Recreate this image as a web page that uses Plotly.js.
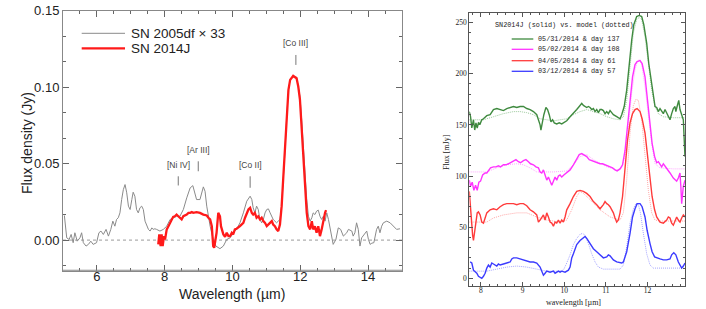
<!DOCTYPE html>
<html>
<head>
<meta charset="utf-8">
<script src="https://cdn.plot.ly/plotly-3.0.1.min.js"></script>
<style>html,body{margin:0;padding:0;background:#fff;}#chart{width:706px;height:309px;}</style>
</head>
<body>
<div id="chart"></div>
<script>
// ---------- Left panel data: [wavelength (µm), flux density (Jy)] ----------
const sn2005dfScaled = [
[5.04,0.0161],[5.11,0.0015],[5.18,0.0004],[5.24,0.0037],[5.30,-0.0017],[5.35,0.0048],[5.42,-0.0007],[5.50,0.0015],
[5.55,0.0048],[5.60,-0.0017],[5.68,-0.0039],[5.75,-0.0028],[5.82,-0.0007],[5.89,-0.0028],[5.99,-0.0017],[6.06,0.0048],
[6.12,0.0059],[6.19,0.0037],[6.27,0.0070],[6.34,0.0026],[6.41,0.0070],[6.47,0.0124],[6.53,0.0091],[6.58,0.0135],
[6.63,0.0146],[6.68,0.0178],[6.73,0.0265],[6.78,0.0330],[6.83,0.0363],[6.88,0.0309],[6.93,0.0222],[6.98,0.0200],
[7.03,0.0265],[7.07,0.0313],[7.12,0.0287],[7.17,0.0200],[7.22,0.0178],[7.27,0.0211],[7.32,0.0222],[7.37,0.0200],
[7.42,0.0124],[7.47,0.0091],[7.52,0.0070],[7.57,0.0059],[7.62,0.0080],[7.66,0.0070],[7.71,0.0074],[7.76,0.0070],
[7.86,0.0059],[7.96,0.0070],[8.06,0.0091],[8.16,0.0135],[8.25,0.0146],[8.35,0.0156],[8.45,0.0156],[8.55,0.0200],
[8.65,0.0276],[8.75,0.0341],[8.83,0.0356],[8.89,0.0309],[8.94,0.0265],[9.04,0.0265],[9.09,0.0309],[9.14,0.0348],
[9.19,0.0319],[9.24,0.0222],[9.34,0.0091],[9.43,0.0004],[9.51,-0.0039],[9.63,-0.0056],[9.73,-0.0039],[9.83,0.0004],
[9.93,0.0015],[10.02,0.0048],[10.12,0.0070],[10.22,0.0113],[10.32,0.0178],[10.42,0.0254],[10.52,0.0287],[10.57,0.0265],
[10.61,0.0211],[10.66,0.0178],[10.71,0.0222],[10.76,0.0200],[10.81,0.0135],[10.86,0.0113],[10.91,0.0135],[10.96,0.0178],
[11.01,0.0200],[11.06,0.0204],[11.11,0.0178],[11.16,0.0156],[11.20,0.0135],[11.30,0.0113],[11.40,0.0135],[11.45,0.0222],
[11.50,0.0374],[11.55,0.0591],[11.60,0.0808],[11.65,0.0982],[11.70,0.1047],[11.79,0.1069],[11.89,0.1065],[11.94,0.1004],
[11.99,0.0939],[12.04,0.0787],[12.09,0.0613],[12.14,0.0417],[12.19,0.0265],[12.24,0.0156],[12.29,0.0124],[12.34,0.0146],
[12.38,0.0178],[12.43,0.0167],[12.48,0.0189],[12.53,0.0196],[12.58,0.0156],[12.63,0.0135],[12.68,0.0156],[12.73,0.0124],
[12.78,0.0178],[12.83,0.0135],[12.88,0.0070],[12.93,0.0004],[12.97,-0.0028],[13.05,0.0004],[13.12,0.0080],[13.19,0.0070],
[13.27,0.0026],[13.37,0.0048],[13.42,0.0070],[13.52,0.0059],[13.56,0.0026],[13.61,0.0048],[13.66,0.0113],[13.71,0.0070],
[13.76,-0.0039],[13.81,0.0015],[13.91,0.0048],[13.96,0.0059],[14.01,0.0004],[14.06,-0.0028],[14.11,-0.0020],[14.17,-0.0017],
[14.25,0.0070],[14.30,0.0091],[14.35,0.0048],[14.40,0.0091],[14.45,0.0113],[14.55,0.0124],[14.65,0.0113],[14.74,0.0091],
[14.84,0.0070],[14.94,0.0074]
];
const sn2014j = [
[7.81,-0.0028],[7.84,0.0037],[7.88,-0.0039],[7.91,0.0037],[7.94,-0.0039],[7.98,0.0026],[8.01,0.0004],[8.06,0.0070],
[8.11,0.0091],[8.16,0.0113],[8.21,0.0135],[8.25,0.0152],[8.30,0.0156],[8.35,0.0167],[8.40,0.0156],[8.45,0.0146],
[8.50,0.0135],[8.55,0.0156],[8.60,0.0161],[8.65,0.0167],[8.70,0.0178],[8.75,0.0178],[8.80,0.0183],[8.84,0.0178],
[8.94,0.0183],[9.04,0.0178],[9.14,0.0167],[9.24,0.0161],[9.29,0.0146],[9.34,0.0135],[9.39,0.0091],[9.43,-0.0039],
[9.46,-0.0050],[9.50,0.0004],[9.53,0.0048],[9.58,0.0178],[9.63,0.0156],[9.66,0.0091],[9.70,0.0048],[9.73,0.0037],
[9.78,0.0022],[9.83,0.0048],[9.88,0.0026],[9.93,0.0026],[9.98,0.0048],[10.02,0.0037],[10.07,0.0070],[10.12,0.0074],
[10.22,0.0091],[10.32,0.0113],[10.37,0.0146],[10.42,0.0178],[10.47,0.0200],[10.52,0.0211],[10.57,0.0178],[10.61,0.0167],
[10.66,0.0178],[10.71,0.0146],[10.76,0.0156],[10.81,0.0135],[10.86,0.0146],[10.91,0.0124],[10.96,0.0113],[11.01,0.0091],
[11.11,0.0113],[11.16,0.0124],[11.20,0.0102],[11.25,0.0091],[11.30,0.0070],[11.35,0.0059],[11.40,0.0102],[11.45,0.0222],
[11.50,0.0417],[11.55,0.0635],[11.60,0.0830],[11.65,0.0982],[11.70,0.1047],[11.79,0.1073],[11.89,0.1058],[11.94,0.1004],
[11.99,0.0917],[12.04,0.0743],[12.09,0.0569],[12.14,0.0352],[12.19,0.0178],[12.24,0.0091],[12.29,0.0070],[12.34,0.0124],
[12.38,0.0070],[12.43,0.0091],[12.48,0.0048],[12.53,0.0091],[12.58,0.0026],[12.63,0.0070],[12.68,0.0135],[12.73,0.0178],
[12.76,0.0196]
];
const lineLabels = ["[Ni IV]", "[Ar III]", "[Co II]", "[Co III]"];
const lineWavelengths = [8.40, 8.99, 10.52, 11.87];
const lineLabelFlux = [0.049, 0.059, 0.049, 0.129];
const lineMarkLow = [0.0357, 0.0450, 0.0342, 0.1145];
const lineMarkHigh = [0.0417, 0.0515, 0.0417, 0.1210];
const leftLegend = ["SN 2005df \u00d7 33", "SN 2014J"];

// ---------- Right panel data: [wavelength (µm), flux (mJy)] ----------
const obs0531 = [
[7.72,163],[7.75,158],[7.78,147],[7.82,155],[7.85,145],[7.88,152],[7.91,147],[7.94,152],[7.98,151],[8.02,155],[8.06,156],
[8.14,159],[8.22,160],[8.30,165],[8.38,166],[8.46,165],[8.54,164],[8.62,166],[8.70,167],[8.78,168],[8.86,167],[8.94,168],
[9.02,168],[9.10,166],[9.18,165],[9.26,163],[9.34,160],[9.38,155],[9.42,150],[9.44,145],[9.47,152],[9.51,160],[9.56,167],
[9.60,165],[9.64,160],[9.68,153],[9.72,155],[9.76,152],[9.82,151],[9.88,152],[9.94,151],[9.99,152],[10.06,154],[10.14,158],
[10.22,161],[10.30,165],[10.36,168],[10.42,171],[10.46,169],[10.50,168],[10.54,167],[10.58,168],[10.62,167],[10.66,165],
[10.70,166],[10.74,163],[10.78,165],[10.82,162],[10.86,165],[10.90,165],[10.94,164],[10.98,161],[11.02,163],[11.06,161],
[11.10,164],[11.14,162],[11.18,160],[11.26,158],[11.34,156],[11.38,160],[11.44,168],[11.50,184],[11.55,207],[11.62,233],
[11.67,248],[11.74,256],[11.80,257],[11.86,256],[11.91,248],[11.98,230],[12.03,210],[12.09,191],[12.14,176],[12.18,168],
[12.22,167],[12.26,163],[12.30,166],[12.34,164],[12.38,161],[12.42,165],[12.46,162],[12.50,158],[12.54,155],[12.58,161],
[12.62,166],[12.66,168],[12.68,163],[12.71,168],[12.75,174],[12.78,165],[12.82,160],[12.86,155],[12.90,119]
];
const model137 = [
[7.72,155],[8.06,155],[8.30,158],[8.54,161],[8.78,163],[8.94,163],[9.10,162],[9.26,160],[9.42,156],[9.58,155],[9.74,154],
[9.90,155],[10.06,156],[10.22,160],[10.38,163],[10.54,165],[10.70,163],[10.86,161],[11.02,158],[11.18,156],[11.34,155],
[11.42,158],[11.50,174],[11.58,207],[11.66,240],[11.74,253],[11.80,255],[11.86,253],[11.94,236],[12.02,210],[12.10,184],
[12.18,168],[12.26,161],[12.38,158],[12.62,157],[12.90,157]
];
const obs0502 = [
[7.72,96],[7.75,90],[7.79,94],[7.83,86],[7.87,91],[7.91,86],[7.95,94],[7.99,95],[8.04,101],[8.10,103],[8.14,103],[8.18,105],
[8.23,108],[8.30,109],[8.36,109],[8.42,110],[8.47,109],[8.54,111],[8.60,111],[8.66,112],[8.71,113],[8.78,114],[8.84,116],
[8.90,114],[8.95,113],[9.02,115],[9.08,116],[9.14,114],[9.19,112],[9.26,111],[9.32,109],[9.38,108],[9.42,104],[9.46,103],
[9.50,106],[9.54,101],[9.58,96],[9.62,99],[9.66,95],[9.70,91],[9.74,95],[9.78,99],[9.82,96],[9.86,100],[9.90,101],[9.94,99],
[9.99,101],[10.06,103],[10.14,106],[10.22,111],[10.30,116],[10.36,121],[10.42,122],[10.47,121],[10.54,119],[10.60,116],
[10.66,115],[10.71,114],[10.78,113],[10.86,112],[10.92,112],[10.98,111],[11.03,110],[11.10,109],[11.16,108],[11.22,106],
[11.27,105],[11.34,107],[11.40,111],[11.46,125],[11.52,148],[11.58,174],[11.64,197],[11.70,209],[11.75,212],[11.82,213],
[11.87,210],[11.94,197],[11.99,178],[12.06,152],[12.11,132],[12.17,119],[12.22,113],[12.26,114],[12.30,111],[12.34,109],
[12.38,112],[12.46,108],[12.54,103],[12.62,98],[12.70,95],[12.74,98],[12.78,103],[12.80,90],[12.82,73],[12.86,90],[12.90,96]
];
const model108 = [
[7.72,104],[8.14,104],[8.38,108],[8.62,111],[8.86,112],[9.02,111],[9.18,108],[9.34,104],[9.74,104],[10.06,105],[10.22,111],
[10.38,119],[10.54,121],[10.70,116],[11.02,109],[11.26,106],[11.38,108],[11.46,119],[11.54,148],[11.62,181],[11.70,204],
[11.75,211],[11.80,214],[11.86,209],[11.94,187],[12.02,158],[12.10,132],[12.18,112],[12.30,108],[12.62,107],[12.90,107]
];
const obs0405 = [
[7.72,85],[7.75,67],[7.78,51],[7.80,42],[7.82,37],[7.85,47],[7.88,60],[7.91,64],[7.94,65],[7.98,62],[8.02,55],[8.06,54],
[8.10,59],[8.14,64],[8.22,67],[8.30,68],[8.38,67],[8.46,70],[8.54,72],[8.62,73],[8.70,73],[8.78,73],[8.86,72],[8.94,73],
[9.02,73],[9.10,71],[9.18,67],[9.26,65],[9.34,62],[9.38,55],[9.42,57],[9.46,60],[9.50,62],[9.54,57],[9.58,64],[9.62,60],
[9.66,55],[9.70,54],[9.74,51],[9.78,55],[9.82,54],[9.86,57],[9.90,54],[9.94,57],[9.98,55],[10.02,60],[10.06,67],[10.14,73],
[10.22,80],[10.30,85],[10.38,86],[10.46,85],[10.54,83],[10.62,80],[10.70,75],[10.78,72],[10.86,68],[10.94,72],[10.98,75],
[11.02,73],[11.06,72],[11.10,70],[11.14,67],[11.18,64],[11.22,59],[11.26,55],[11.30,57],[11.34,64],[11.40,80],[11.46,109],
[11.52,135],[11.58,152],[11.64,161],[11.70,165],[11.75,166],[11.82,163],[11.87,156],[11.94,142],[11.99,122],[12.06,99],
[12.11,80],[12.17,67],[12.22,60],[12.30,55],[12.38,54],[12.46,57],[12.50,60],[12.54,59],[12.58,54],[12.62,52],[12.66,57],
[12.70,60],[12.74,57],[12.78,55],[12.82,59],[12.86,62],[12.90,60]
];
const model61 = [
[7.72,55],[8.14,55],[8.30,59],[8.54,62],[8.86,64],[9.10,64],[9.34,60],[9.58,57],[9.90,55],[10.06,57],[10.18,67],[10.30,80],
[10.38,85],[10.46,83],[10.62,77],[10.86,67],[11.10,60],[11.34,57],[11.42,64],[11.50,96],[11.58,142],[11.66,169],[11.72,175],
[11.78,174],[11.86,155],[11.94,122],[12.02,86],[12.10,64],[12.18,57],[12.30,56],[12.90,56]
];
const obs0312 = [
[7.74,16],[7.78,15],[7.82,8],[7.90,5],[7.94,2],[8.02,0],[8.06,2],[8.10,5],[8.14,10],[8.18,13],[8.22,11],[8.26,15],[8.30,14],
[8.38,12],[8.42,14],[8.46,13],[8.54,14],[8.62,15],[8.70,16],[8.74,19],[8.78,20],[8.86,20],[8.94,19],[9.02,18],[9.10,17],
[9.18,16],[9.26,16],[9.34,15],[9.42,11],[9.46,7],[9.50,3],[9.54,5],[9.58,7],[9.66,6],[9.74,7],[9.78,5],[9.86,7],[9.90,6],
[9.94,7],[10.02,6],[10.10,8],[10.14,11],[10.18,20],[10.22,24],[10.30,33],[10.38,37],[10.46,40],[10.50,41],[10.54,39],
[10.62,34],[10.70,29],[10.78,26],[10.86,23],[10.94,20],[11.02,21],[11.06,23],[11.10,22],[11.14,20],[11.18,18],[11.26,16],
[11.34,15],[11.38,15],[11.42,16],[11.50,26],[11.58,44],[11.64,60],[11.70,68],[11.75,73],[11.82,73],[11.87,70],[11.94,60],
[11.99,47],[12.06,34],[12.11,26],[12.17,21],[12.22,20],[12.30,19],[12.38,18],[12.46,18],[12.54,19],[12.58,23],[12.63,25],
[12.68,23],[12.74,16],[12.82,10],[12.86,12],[12.90,15]
];
const model57 = [
[7.72,7],[8.14,7],[8.38,9],[8.62,11],[8.86,12],[9.10,11],[9.34,9],[9.58,7],[9.86,7],[9.98,8],[10.06,15],[10.14,23],[10.22,33],
[10.30,39],[10.38,43],[10.44,44],[10.50,42],[10.58,34],[10.66,24],[10.74,16],[10.82,11],[10.94,9],[11.34,9],[11.42,13],
[11.50,31],[11.58,54],[11.66,68],[11.72,73],[11.78,72],[11.83,64],[11.90,44],[11.98,24],[12.06,13],[12.14,10],[12.90,10]
];
const rightLegend = ["05/31/2014 & day 137", "05/02/2014 & day 108", "04/05/2014 & day 61", "03/12/2014 & day 57"];
const rightColors = ["#3f8a3f", "#ff33ff", "#ff3b3b", "#3b3bff"];
const rightModelColors = ["#9cc99c", "#ffa6ff", "#ffa6a6", "#a6a6ff"];

// ---------- Build traces ----------
const xs = a => a.map(p => p[0]);
const ys = a => a.map(p => p[1]);
const traces = [
  {x: xs(sn2005dfScaled), y: ys(sn2005dfScaled), xaxis:'x', yaxis:'y', mode:'lines', line:{color:'#8a8a8a', width:1}, showlegend:false},
  {x: xs(sn2014j), y: ys(sn2014j), xaxis:'x', yaxis:'y', mode:'lines', line:{color:'#ff1a1a', width:2.3}, showlegend:false}
];
const obs = [obs0531, obs0502, obs0405, obs0312];
const mods = [model137, model108, model61, model57];
for (let i = 0; i < 4; i++) {
  traces.push({x: xs(mods[i]), y: ys(mods[i]), xaxis:'x2', yaxis:'y2', mode:'lines', line:{color:rightModelColors[i], width:1, dash:'1px,1px'}, showlegend:false});
  traces.push({x: xs(obs[i]), y: ys(obs[i]), xaxis:'x2', yaxis:'y2', mode:'lines', line:{color:rightColors[i], width:1.4}, showlegend:false});
}

// ---------- Layout helpers ----------
const W = 706, H = 309;
const px = v => v / W, py = v => (H - v) / H;
const sans = 'Liberation Sans, Arial, sans-serif';
const serif = 'Liberation Serif, DejaVu Serif, serif';
const mono = 'Liberation Mono, DejaVu Sans Mono, monospace';

const shapes = [
  {type:'line', xref:'x', yref:'y', x0:5, x1:15, y0:0, y1:0, line:{color:'#9a9a9a', width:1, dash:'dot'}, layer:'below'},
  {type:'line', xref:'x', yref:'y', x0:5, x1:15, y0:-0.02, y1:-0.02, line:{color:'#888', width:2}}
];
const annotations = [];
for (let i = 0; i < lineLabels.length; i++) {
  shapes.push({type:'line', xref:'x', yref:'y', x0:lineWavelengths[i], x1:lineWavelengths[i], y0:lineMarkLow[i], y1:lineMarkHigh[i], line:{color:'#777', width:1}});
  annotations.push({xref:'x', yref:'y', x:lineWavelengths[i], y:lineLabelFlux[i], text:lineLabels[i], showarrow:false,
    font:{family:sans, size:8.5, color:'#444'}, xanchor:'center', yanchor:'middle'});
}
// left legend
const leftLegendColors = ['#8a8a8a', '#ff1a1a'];
const leftLegendWidths = [1, 2.3];
const leftLegendY = [33.3, 48.3];
for (let i = 0; i < 2; i++) {
  shapes.push({type:'line', xref:'paper', yref:'paper', x0:px(81.7), x1:px(125), y0:py(leftLegendY[i]), y1:py(leftLegendY[i]), line:{color:leftLegendColors[i], width:leftLegendWidths[i]}});
  annotations.push({xref:'paper', yref:'paper', x:px(129), y:py(leftLegendY[i]), text:leftLegend[i], showarrow:false, xanchor:'left', yanchor:'middle',
    font:{family:sans, size:13.5, color:'#222'}});
}
// right legend
annotations.push({xref:'paper', yref:'paper', x:px(493), y:py(24.7), text:'SN2014J (solid) vs. model (dotted)', showarrow:false, xanchor:'left', yanchor:'middle',
  font:{family:mono, size:6.8, color:'#222'}});
const rightLegendY = [39, 49.3, 60.7, 71.3];
for (let i = 0; i < 4; i++) {
  shapes.push({type:'line', xref:'paper', yref:'paper', x0:px(511.7), x1:px(533.3), y0:py(rightLegendY[i]), y1:py(rightLegendY[i]), line:{color:rightColors[i], width:1.3}});
  annotations.push({xref:'paper', yref:'paper', x:px(536), y:py(rightLegendY[i]), text:rightLegend[i], showarrow:false, xanchor:'left', yanchor:'middle',
    font:{family:mono, size:6.8, color:'#222'}});
}
// axis titles
annotations.push({xref:'paper', yref:'paper', x:px(232), y:py(294), text:'Wavelength (\u00b5m)', showarrow:false, xanchor:'center', yanchor:'middle', font:{family:sans, size:14, color:'#222'}});
annotations.push({xref:'paper', yref:'paper', x:px(27), y:py(143), text:'Flux density (Jy)', showarrow:false, textangle:-90, xanchor:'center', yanchor:'middle', font:{family:sans, size:14, color:'#222'}});
annotations.push({xref:'paper', yref:'paper', x:px(573), y:py(302.5), text:'wavelength [\u00b5m]', showarrow:false, xanchor:'center', yanchor:'middle', font:{family:serif, size:8, color:'#222'}});
annotations.push({xref:'paper', yref:'paper', x:px(446), y:py(152), text:'Flux [mJy]', showarrow:false, textangle:-90, xanchor:'center', yanchor:'middle', font:{family:serif, size:8, color:'#222'}});

const leftAxisCommon = {showgrid:false, zeroline:false, showline:true, linecolor:'#888', linewidth:1, mirror:'allticks',
  ticks:'inside', ticklen:6, tickcolor:'#666', tickwidth:1, tickfont:{family:sans, size:13, color:'#222'}};
const rightAxisCommon = {showgrid:false, zeroline:false, showline:true, linecolor:'#555', linewidth:1, mirror:'allticks',
  ticks:'inside', ticklen:4, tickcolor:'#555', tickwidth:1, tickfont:{family:serif, size:7.5, color:'#222'}};

const layout = {
  width: W, height: H, margin:{l:0, r:0, t:0, b:0, pad:0}, paper_bgcolor:'#fff', plot_bgcolor:'#fff', showlegend:false,
  xaxis: Object.assign({}, leftAxisCommon, {domain:[px(63), px(402)], anchor:'y', range:[5,15], tick0:0, dtick:2, ticklabelstandoff:-6,
    minor:{dtick:0.5, tick0:0, ticks:'inside', ticklen:3, tickcolor:'#666'}}),
  yaxis: Object.assign({}, leftAxisCommon, {domain:[py(270.7), py(10.6)], anchor:'x', range:[-0.02, 0.15], tick0:0, dtick:0.05, tickformat:'.2f',
    minor:{dtick:0.05/3, tick0:0, ticks:'inside', ticklen:3, tickcolor:'#666'}}),
  xaxis2: Object.assign({}, rightAxisCommon, {domain:[px(469.3), px(685)], anchor:'y2', range:[7.72, 12.9], tick0:0, dtick:1, ticklabelstandoff:-3,
    minor:{dtick:0.2, tick0:0, ticks:'inside', ticklen:2, tickcolor:'#555'}}),
  yaxis2: Object.assign({}, rightAxisCommon, {domain:[py(286), py(12.7)], anchor:'x2', range:[-7.5, 259.7], tick0:0, dtick:50,
    minor:{dtick:10, tick0:0, ticks:'inside', ticklen:2, tickcolor:'#555'}}),
  shapes: shapes,
  annotations: annotations
};
Plotly.newPlot('chart', traces, layout, {staticPlot:true, displayModeBar:false});
</script>
</body>
</html>
